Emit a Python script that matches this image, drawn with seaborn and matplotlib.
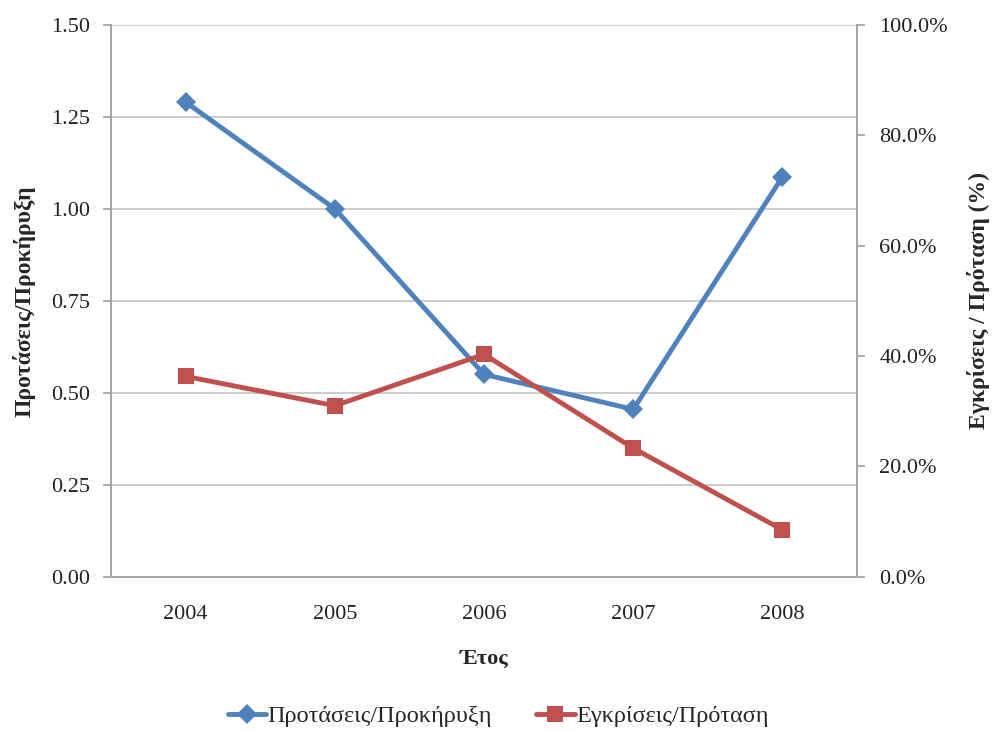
import matplotlib
matplotlib.use("Agg")
import matplotlib.pyplot as plt
import matplotlib.ticker as mticker
import seaborn as sns
import pandas as pd

years = ["2004", "2005", "2006", "2007", "2008"]
proposals_per_call = [1.29, 1.00, 0.55, 0.455, 1.087]
approvals_per_proposal = [36.3, 31.0, 40.3, 23.3, 8.5]

blue = "#4F81BD"
red = "#C0504D"
grey = "#A6A6A6"
fs = 16

sns.set_style("white")
plt.rcParams["font.family"] = ["Liberation Serif", "DejaVu Serif"]

df = pd.DataFrame({"year": years, "ratio": proposals_per_call, "pct": approvals_per_proposal})

fig, ax = plt.subplots(figsize=(9.96, 7.31), dpi=100)
fig.subplots_adjust(left=0.1115, right=0.8605, top=0.966, bottom=0.211)
ax2 = ax.twinx()

sns.lineplot(data=df, x="year", y="ratio", ax=ax, color=blue, lw=3.5, marker="D",
             markersize=10.5, markeredgewidth=0, label="Προτάσεις/Προκήρυξη", legend=False,
             zorder=3)
sns.lineplot(data=df, x="year", y="pct", ax=ax2, color=red, lw=3.5, marker="s",
             markersize=11.5, markeredgewidth=0, label="Εγκρίσεις/Πρόταση", legend=False,
             zorder=3)

ax.set_xlim(-0.5, 4.5)
ax.set_ylim(0, 1.5)
ax.set_yticks([0, 0.25, 0.5, 0.75, 1.0, 1.25, 1.5])
ax.yaxis.set_major_formatter(mticker.FormatStrFormatter("%.2f"))
ax2.set_ylim(0, 100)
ax2.set_yticks([0, 20, 40, 60, 80, 100])
ax2.yaxis.set_major_formatter(mticker.FormatStrFormatter("%.1f%%"))

ax.yaxis.grid(True, color="#C8C8C8", lw=1.3)
ax.set_axisbelow(True)

# category boundaries get the tick marks
ax.set_xticks([-0.5, 0.5, 1.5, 2.5, 3.5, 4.5], minor=True)
ax.tick_params(axis="x", which="major", length=0, labelsize=fs, pad=20, labelcolor="#222222")
ax.tick_params(axis="x", which="minor", length=6, color=grey, width=1.3, direction="out")
ax.tick_params(axis="y", length=6, color=grey, width=1.3, direction="out", labelsize=fs,
               pad=9, labelcolor="#222222")
ax2.tick_params(axis="y", length=6, color=grey, width=1.3, direction="out", labelsize=fs,
                pad=10, labelcolor="#222222")

for a in (ax, ax2):
    for side in ["left", "right", "bottom"]:
        a.spines[side].set_color(grey)
        a.spines[side].set_linewidth(1.3)
    a.spines["top"].set_visible(False)

ax.set_xlabel("Έτος", fontsize=fs, fontweight="bold", labelpad=18)
ax.set_ylabel("Προτάσεις/Προκήρυξη", fontsize=17, fontweight="bold", labelpad=11)
ax2.set_ylabel("Εγκρίσεις / Πρόταση (%)", fontsize=17, fontweight="bold", labelpad=14,
               rotation=90)

h1, l1 = ax.get_legend_handles_labels()
h2, l2 = ax2.get_legend_handles_labels()
fig.legend(h1 + h2, l1 + l2, loc="center", bbox_to_anchor=(0.5, 0.02), ncol=2,
           frameon=False, fontsize=17.5, handlelength=1.6, columnspacing=1.8,
           handletextpad=0.05)

fig.savefig("out.png", dpi=100, facecolor="white")
